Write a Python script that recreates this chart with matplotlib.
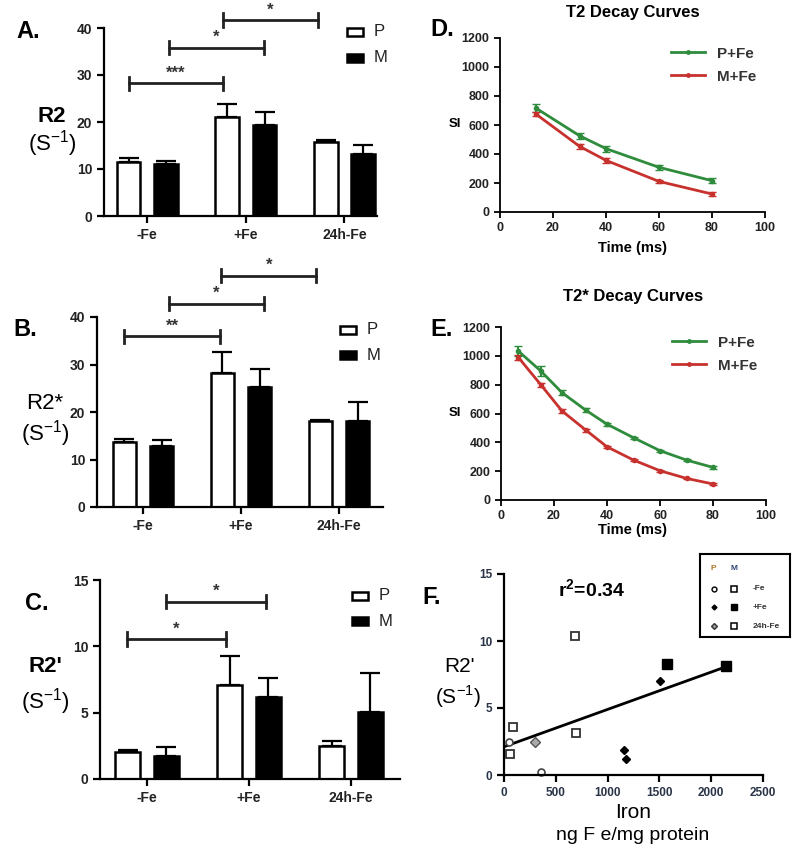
import matplotlib
matplotlib.use("Agg")
import matplotlib.pyplot as plt
from matplotlib.lines import Line2D
from matplotlib.patches import Rectangle
import numpy as np

plt.rcParams['font.family'] = ['Liberation Sans', 'DejaVu Sans']

W, H = 800, 851

# ---------------- data ----------------
groups = ["-Fe", "+Fe", "24h-Fe"]
r2_P = [11.4, 21.1, 15.7]
r2_P_err = [0.9, 2.7, 0.4]
r2_M = [11.1, 19.4, 13.2]
r2_M_err = [0.7, 2.7, 2.0]

r2s_P = [13.6, 28.3, 18.1]
r2s_P_err = [0.7, 4.4, 0.2]
r2s_M = [12.9, 25.3, 18.2]
r2s_M_err = [1.2, 3.7, 3.9]

r2p_P = [2.0, 7.05, 2.5]
r2p_P_err = [0.2, 2.2, 0.33]
r2p_M = [1.75, 6.15, 5.06]
r2p_M_err = [0.65, 1.45, 2.95]

t2_time = [13.5, 30, 40, 60, 80]
t2_P = [717, 526, 437, 308, 216]
t2_P_err = [30, 20, 20, 15, 18]
t2_M = [676, 453, 356, 211, 124]
t2_M_err = [15, 18, 18, 12, 12]

t2s_time = [6.6, 15, 23, 32, 40, 50, 60, 70, 80]
t2s_P = [1032, 895, 745, 623, 526, 432, 342, 277, 226]
t2s_P_err = [35, 35, 20, 12, 10, 8, 8, 6, 10]
t2s_M = [988, 800, 618, 485, 369, 277, 203, 150, 111]
t2s_M_err = [20, 15, 12, 10, 8, 6, 6, 5, 6]

# panel F scatter
P_neg_x, P_neg_y = [48, 359], [2.43, 0.2]
P_pos_x, P_pos_y = [1506, 1154, 1176], [7.0, 1.9, 1.19]
P_24_x, P_24_y = [295], [2.43]
M_neg_x, M_neg_y = [58, 90], [1.6, 3.6]
M_pos_x, M_pos_y = [1570, 2147], [8.26, 8.14]
M_24_x, M_24_y = [690, 695], [10.4, 3.15]
fit_x = [15, 2150]
fit_y = [2.15, 8.1]

# significance brackets: (x_left, x_right, y, label)
sig_A = [(-0.19, 0.77, 28.2, "***"), (0.22, 1.18, 35.8, "*"), (0.77, 1.73, 41.7, "*")]
sig_B = [(-0.19, 0.79, 35.9, "**"), (0.26, 1.23, 42.8, "*"), (0.80, 1.77, 48.7, "*")]
sig_C = [(-0.20, 0.77, 10.55, "*"), (0.19, 1.17, 13.36, "*")]

fig = plt.figure(figsize=(W / 100, H / 100), dpi=100)


def ax_px(x0, y0, x1, y1):
    return fig.add_axes([x0 / W, (H - y1) / H, (x1 - x0) / W, (y1 - y0) / H])


def ftext(x, y, s, **kw):
    fig.text(x / W, 1 - y / H, s, **kw)


TICKC = '#222222'


def style_axes(ax, fs=10):
    for s in ['top', 'right']:
        ax.spines[s].set_visible(False)
    for s in ['left', 'bottom']:
        ax.spines[s].set_linewidth(1.6)
    ax.tick_params(width=1.6, length=5, labelsize=fs, colors='black', labelcolor=TICKC)
    for lab in ax.get_xticklabels() + ax.get_yticklabels():
        lab.set_fontweight('bold')


def bar_panel(ax, P, Perr, M, Merr, ylim, yticks, xlim, sigs, sigtick):
    x = np.arange(len(groups))
    w = 0.24
    off = 0.19
    ax.bar(x - off, P, w, color='white', edgecolor='black', linewidth=1.8, zorder=2)
    ax.bar(x + off, M, w, color='black', edgecolor='black', linewidth=1.8, zorder=2)
    ax.errorbar(x - off, P, yerr=[np.zeros(3), Perr], fmt='none', ecolor='black',
                elinewidth=1.6, capsize=7, capthick=1.6, zorder=1)
    ax.errorbar(x + off, M, yerr=[np.zeros(3), Merr], fmt='none', ecolor='black',
                elinewidth=1.6, capsize=7, capthick=1.6, zorder=1)
    ax.set_xlim(*xlim)
    ax.set_ylim(*ylim)
    ax.set_yticks(yticks)
    ax.set_xticks(x)
    ax.set_xticklabels(groups)
    style_axes(ax, fs=10)
    for (xl, xr, y, lab) in sigs:
        ax.plot([xl, xr], [y, y], color='#222222', lw=2.0, clip_on=False)
        ax.plot([xl, xl], [y - sigtick, y + sigtick], color='#222222', lw=2.0, clip_on=False)
        ax.plot([xr, xr], [y - sigtick, y + sigtick], color='#222222', lw=2.0, clip_on=False)
        ax.text((xl + xr) / 2, y + sigtick * 0.4, lab, ha='center', va='bottom',
                fontsize=12, fontweight='bold', color='#333333', clip_on=False)


# ---- Panel A ----
axA = ax_px(104, 28, 377, 216)
bar_panel(axA, r2_P, r2_P_err, r2_M, r2_M_err, (0, 40), [0, 10, 20, 30, 40],
          (-0.44, 2.33), sig_A, 1.4)
# ---- Panel B ----
axB = ax_px(97, 317, 383, 507)
bar_panel(axB, r2s_P, r2s_P_err, r2s_M, r2s_M_err, (0, 40), [0, 10, 20, 30, 40],
          (-0.47, 2.45), sig_B, 1.4)
# ---- Panel C ----
axC = ax_px(100, 580, 400, 779)
bar_panel(axC, r2p_P, r2p_P_err, r2p_M, r2p_M_err, (0, 15), [0, 5, 10, 15],
          (-0.46, 2.48), sig_C, 0.5)

# bar legends (P / M)
for (lx, ly1, ly2) in [(347, 32, 58), (340, 330, 355), (352, 596, 621)]:
    for ly, fc, lab in [(ly1, 'white', 'P'), (ly2, 'black', 'M')]:
        fig.patches.append(Rectangle((lx / W, 1 - (ly + 4) / H), 16 / W, 8 / H,
                                     transform=fig.transFigure, facecolor=fc,
                                     edgecolor='black', linewidth=1.8))
        ftext(lx + 27, ly, lab, fontsize=12, va='center', ha='left', color='#222222')

# panel letters and y labels for A-C
ftext(28, 32, "A.", fontsize=17, fontweight='bold', ha='center', va='center')
ftext(25, 330, "B.", fontsize=17, fontweight='bold', ha='center', va='center')
ftext(37, 604, "C.", fontsize=17, fontweight='bold', ha='center', va='center')
ftext(52, 116, "R2", fontsize=16, fontweight='bold', ha='center', va='center')
ftext(52, 144, "(S$^{\\mathregular{-1}}$)", fontsize=16, ha='center', va='center')
ftext(45, 404, "R2*", fontsize=16, ha='center', va='center')
ftext(45, 434, "(S$^{\\mathregular{-1}}$)", fontsize=16, ha='center', va='center')
ftext(45, 667, "R2'", fontsize=16, fontweight='bold', ha='center', va='center')
ftext(45, 702, "(S$^{\\mathregular{-1}}$)", fontsize=16, ha='center', va='center')

# ---- Panels D, E ----
GREEN = '#2f8c3c'
RED = '#c7322e'


def decay_panel(ax, t, P, Perr, M, Merr):
    ax.errorbar(t, P, yerr=Perr, color=GREEN, lw=2.0, marker='o', ms=3,
                capsize=3, elinewidth=1.5)
    ax.errorbar(t, M, yerr=Merr, color=RED, lw=2.0, marker='o', ms=3,
                capsize=3, elinewidth=1.5)
    ax.set_xlim(0, 100)
    ax.set_ylim(0, 1200)
    ax.set_xticks([0, 20, 40, 60, 80, 100])
    ax.set_yticks([0, 200, 400, 600, 800, 1000, 1200])
    style_axes(ax, fs=9)
    ax.tick_params(width=1.3, length=4)
    for s in ['left', 'bottom']:
        ax.spines[s].set_linewidth(1.3)
    handles = [Line2D([], [], color=GREEN, lw=2, marker='o', ms=2.5),
               Line2D([], [], color=RED, lw=2, marker='o', ms=2.5)]
    leg = ax.legend(handles, ['P+Fe', 'M+Fe'], loc='upper right', frameon=False,
                    fontsize=11, handlelength=2.2, bbox_to_anchor=(1.02, 1.03),
                    labelspacing=0.6)
    for txt in leg.get_texts():
        txt.set_fontweight('bold')
        txt.set_color('#333333')


axD = ax_px(500, 38, 765, 212)
decay_panel(axD, t2_time, t2_P, t2_P_err, t2_M, t2_M_err)
ftext(633, 12, "T2 Decay Curves", fontsize=12, fontweight='bold', ha='center', va='center')
ftext(442, 30, "D.", fontsize=17, fontweight='bold', ha='center', va='center')
ftext(455, 124, "SI", fontsize=9.5, fontweight='bold', ha='center', va='center')
ftext(632, 248, "Time (ms)", fontsize=10.5, fontweight='bold', ha='center', va='center')

axE = ax_px(501, 327, 766, 500)
decay_panel(axE, t2s_time, t2s_P, t2s_P_err, t2s_M, t2s_M_err)
ftext(633, 297, "T2* Decay Curves", fontsize=12, fontweight='bold',
      ha='center', va='center')
ftext(442, 330, "E.", fontsize=17, fontweight='bold', ha='center', va='center')
ftext(455, 413, "SI", fontsize=9.5, fontweight='bold', ha='center', va='center')
ftext(632, 530, "Time (ms)", fontsize=10.5, fontweight='bold', ha='center', va='center')

# ---- Panel F ----
axF = ax_px(504, 574, 763, 775)
axF.plot(fit_x, fit_y, color='black', lw=2.0, zorder=1)
axF.plot(P_neg_x, P_neg_y, 'o', mfc='white', mec='#444444', ms=5, mew=1.2, clip_on=False)
axF.plot(P_pos_x, P_pos_y, 'D', color='black', ms=4.5)
axF.plot(P_24_x, P_24_y, 'D', mfc='#aaaaaa', mec='#555555', ms=5, mew=1)
axF.plot(M_neg_x, M_neg_y, 's', mfc='white', mec='#333333', ms=6, mew=1.3)
axF.plot(M_pos_x, M_pos_y, 's', color='black', ms=7)
axF.plot(M_24_x, M_24_y, 's', mfc='white', mec='#333333', ms=6, mew=1.3)
axF.set_xlim(0, 2500)
axF.set_ylim(0, 15)
axF.set_xticks([0, 500, 1000, 1500, 2000, 2500])
axF.set_yticks([0, 5, 10, 15])
style_axes(axF, fs=8.5)
axF.tick_params(labelcolor='#2a3448')
axF.text(0.21, 0.92, "r$^{\\mathregular{2}}$=0.34", transform=axF.transAxes,
         fontsize=14, fontweight='bold', ha='left', va='center')
ftext(432, 597, "F.", fontsize=17, fontweight='bold', ha='center', va='center')
ftext(460, 667, "R2'", fontsize=15, ha='center', va='center')
ftext(458, 697, "(S$^{\\mathregular{-1}}$)", fontsize=15, ha='center', va='center')
ftext(633, 812, "Iron", fontsize=15, ha='center', va='center')
ftext(633, 836, "ng F e/mg protein", fontsize=14, ha='center', va='center')

# legend box in F
axL = ax_px(700, 554, 790, 637)
axL.set_xlim(0, 1)
axL.set_ylim(0, 1)
axL.set_xticks([])
axL.set_yticks([])
for s in axL.spines.values():
    s.set_linewidth(1.5)
axL.text(0.15, 0.82, "P", fontsize=6, fontweight='bold', ha='center', va='center', color='#aa7722')
axL.text(0.38, 0.82, "M", fontsize=6, fontweight='bold', ha='center', va='center', color='#334477')
rows = [(0.58, "-Fe"), (0.36, "+Fe"), (0.13, "24h-Fe")]
axL.plot([0.15], [0.58], 'o', mfc='white', mec='black', ms=3.5, mew=1)
axL.plot([0.38], [0.58], 's', mfc='white', mec='black', ms=4, mew=1.1)
axL.plot([0.15], [0.36], 'D', color='black', ms=2.5)
axL.plot([0.38], [0.36], 's', color='black', ms=4.5)
axL.plot([0.15], [0.13], 'D', mfc='#999999', mec='#333333', ms=3)
axL.plot([0.38], [0.13], 's', mfc='white', mec='black', ms=4, mew=1.1)
for y, lab in rows:
    axL.text(0.58, y, lab, fontsize=6, fontweight='bold', ha='left', va='center', color='#333333')

fig.savefig("out.png", dpi=100)
